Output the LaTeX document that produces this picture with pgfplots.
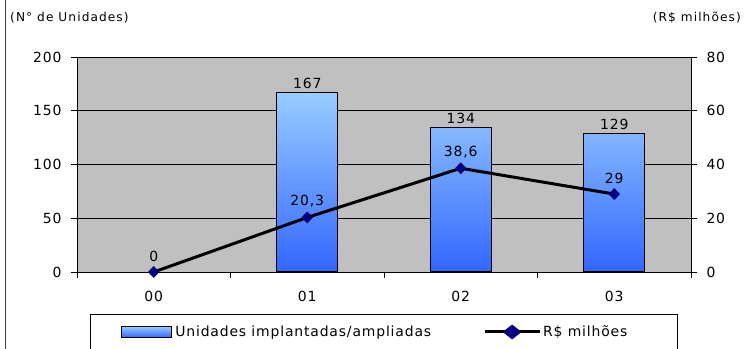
\documentclass[border=0pt]{standalone}
\usepackage{fontspec}
\setmainfont{DejaVu Sans}
\newfontfamily\spaced{DejaVu Sans}[LetterSpace=6]
\newfontfamily\spacedb{DejaVu Sans}[LetterSpace=9]
\usepackage{pgfplots}
\pgfplotsset{compat=1.18}
\definecolor{bgray}{RGB}{192,192,192}
\definecolor{btop}{RGB}{153,204,255}
\definecolor{bbot}{RGB}{51,102,255}
\definecolor{navyb}{RGB}{0,0,128}
\begin{document}
\begin{tikzpicture}
\useasboundingbox (0,0) rectangle (746bp,349bp);
\draw[black!75, line width=1bp] (5bp,0) -- (5bp,349bp);
\node[anchor=west, inner sep=0pt, font=\spacedb\fontsize{12.2}{14}\selectfont] at (10bp,331bp) {(N° de Unidades)};
\node[anchor=east, inner sep=0pt, font=\spacedb\fontsize{12.2}{14}\selectfont] at (741bp,331bp) {(R\$ milhões)};
\begin{axis}[
  at={(77bp,77bp)}, anchor=south west,
  width=614bp, height=215bp, scale only axis,
  xmin=-0.5, xmax=3.5, ymin=0, ymax=200,
  axis background/.style={fill=bgray},
  axis line style={black, line width=0.8bp},
  ytick={0,50,...,200},
  ymajorgrids, grid style={black, line width=0.7bp},
  xtick={0,1,2,3}, xticklabels={00,01,02,03},
  major x tick style={draw=none},
  minor xtick={-0.5,0.5,1.5,2.5,3.5},
  minor x tick style={black, line width=0.8bp},
  major y tick style={black, line width=0.8bp},
  tick align=outside, major tick length=6bp, minor tick length=6bp,
  xtick pos=bottom, ytick pos=left,
  ticklabel style={font=\spaced\fontsize{14}{16}\selectfont},
  xticklabel style={yshift=-10bp},
  yticklabel style={xshift=-6bp},
  /pgf/number format/assume math mode=true,
  /pgf/number format/use comma,
  clip=false,
]
\addplot[ybar, bar width=0.4, draw=black, line width=1bp, top color=btop, bottom color=bbot,
  nodes near coords, every node near coord/.append style={font=\spaced\fontsize{14}{16}\selectfont, anchor=south, yshift=0bp}]
  coordinates {(1,167) (2,134) (3,129)};
\end{axis}
\begin{axis}[
  at={(77bp,77bp)}, anchor=south west,
  width=614bp, height=215bp, scale only axis,
  xmin=-0.5, xmax=3.5, ymin=0, ymax=80,
  axis y line*=right, axis x line=none,
  axis line style={black, line width=0.8bp},
  ytick={0,20,...,80},
  major y tick style={black, line width=0.8bp},
  tick align=outside, major tick length=6bp,
  ticklabel style={font=\spaced\fontsize{14}{16}\selectfont},
  yticklabel style={xshift=6bp},
  /pgf/number format/assume math mode=true,
  clip=false,
  legend columns=2,
  legend style={at={(0.5,-0.195)}, anchor=north, draw=black, line width=0.8bp,
    font=\spaced\fontsize{14}{16}\selectfont, inner xsep=30bp, inner ysep=9.5bp,
    /tikz/every even column/.append style={column sep=50bp}},
]
\addlegendimage{legend image code/.code={\draw[draw=black,line width=1.2bp,top color=btop,bottom color=bbot] (0bp,-5.5bp) rectangle (50bp,5.5bp);}}
\addlegendentry{\hspace{1.5bp}Unidades implantadas/ampliadas}
\addplot[black, line width=3bp, mark=diamond*, mark size=5.5bp,
  mark options={fill=navyb, draw=navyb, line width=0.5bp, xscale=1.3},
  point meta=explicit symbolic, nodes near coords,
  every node near coord/.append style={font=\spaced\fontsize{14}{16}\selectfont, anchor=south, yshift=7bp},
  legend image code/.code={\draw[black,line width=3bp] (0bp,0bp) -- (55bp,0bp);
    \fill[navyb] (27.5bp,5.5bp) -- (34.5bp,0bp) -- (27.5bp,-5.5bp) -- (20.5bp,0bp) -- cycle;}]
  coordinates {(0,0) [0] (1,20.3) [20,3] (2,38.6) [38,6] (3,29) [29]};
\addlegendentry{R\$ milhões\rule{18bp}{0pt}}
\end{axis}
\end{tikzpicture}
\end{document}
